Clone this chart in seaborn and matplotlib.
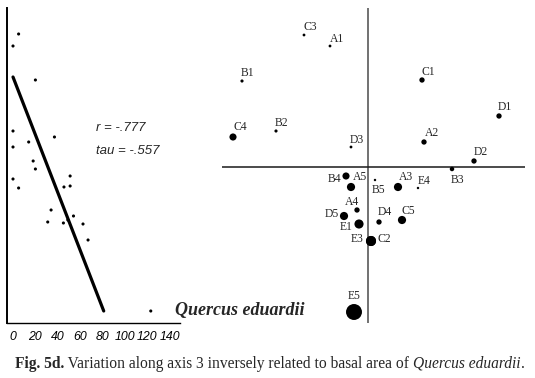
import matplotlib
matplotlib.use("Agg")
import matplotlib.pyplot as plt
import seaborn as sns
import pandas as pd

# ---------------- data ----------------
# left panel: basal area of Quercus eduardii vs. axis-3 score
basal_area = [5, 0, 20, 0, 37, 0, 14, 18, 20, 51, 0, 5, 45.5, 51, 34, 31, 45, 54, 49, 62.5, 67, 123]
axis3_left = [2.66, 2.42, 1.74, 0.72, 0.60, 0.40, 0.50, 0.12, -0.04, -0.18, -0.24, -0.42,
              -0.40, -0.38, -0.86, -1.10, -1.12, -0.98, -1.06, -1.14, -1.46, -2.88]
fit_x = [0, 81]
fit_y = [1.80, -2.88]
x_ticks = [0, 20, 40, 60, 80, 100, 120, 140]
r_text = "r = -.777"
tau_text = "tau = -.557"
species = "Quercus eduardii"

# right panel: ordination of plots, symbol size = basal area
plot_labels = ["C3", "A1", "B1", "C1", "D1", "C4", "B2", "D3", "A2", "D2", "B3", "B4",
               "A5", "B5", "A3", "E4", "A4", "D5", "D4", "C5", "E1", "E3", "C2", "E5"]
axis_h = [-1.28, -0.76, -2.52, 1.08, 2.62, -2.70, -1.84, -0.34, 1.12, 2.12, 1.68, -0.44,
          -0.34, 0.14, 0.60, 1.00, -0.22, -0.48, 0.22, 0.68, -0.18, 0.06, 0.06, -0.28]
axis3_right = [2.64, 2.42, 1.72, 1.74, 1.02, 0.60, 0.72, 0.40, 0.50, 0.12, -0.04, -0.18,
               -0.40, -0.26, -0.40, -0.42, -0.86, -0.98, -1.10, -1.06, -1.14, -1.48, -1.48, -2.90]
plot_basal = [2, 2, 3, 12, 12, 23, 3, 2, 12, 12, 8, 23,
              31, 1, 31, 1, 12, 31, 12, 31, 39, 48, 48, 123]

caption_parts = [("Fig. 5d.", "normal", "bold"),
                 (" Variation along axis 3 inversely related to basal area of ", "normal", "normal"),
                 ("Quercus eduardii", "italic", "normal"),
                 (".", "normal", "normal")]

# label placement (pixels: dx, dy-up, horizontal alignment)
label_pos = {
    "C3": (-1, 8, "left"), "A1": (0, 7, "left"), "B1": (-1, 8, "left"), "C1": (-1, 8, "left"),
    "D1": (-1, 9, "left"), "C4": (0, 10, "left"), "B2": (-1, 8, "left"), "D3": (-1, 7, "left"),
    "A2": (1, 9, "left"), "D2": (0, 9, "left"), "B3": (-1, -11, "left"), "B4": (-5, -3, "right"),
    "A5": (2, 10, "left"), "B5": (-3, -10, "left"), "A3": (1, 10, "left"), "E4": (0, 7, "left"),
    "A4": (-12, 8, "left"), "D5": (-5, 2, "right"), "D4": (-1, 10, "left"), "C5": (-1, 9, "left"),
    "E1": (-6, -3, "right"), "E3": (-7, 2, "right"), "C2": (6, 2, "left"), "E5": (0, 16, "center"),
}

# ---------------- figure ----------------
sns.set_style("white")
plt.rcParams["font.family"] = ["Liberation Sans", "DejaVu Sans"]
SERIF = ["Liberation Serif", "DejaVu Serif"]

W, H = 535, 378
fig = plt.figure(figsize=(W / 100, H / 100), dpi=100)

def frac(x0, y0, x1, y1):
    return [x0 / W, 1 - y1 / H, (x1 - x0) / W, (y1 - y0) / H]

ylim = (-3.12, 3.18)

# left panel
ax1 = fig.add_axes(frac(7, 8, 180, 323))
left_df = pd.DataFrame({"basal": basal_area, "axis3": axis3_left})
sns.scatterplot(data=left_df, x="basal", y="axis3", ax=ax1, color="black", s=5,
                edgecolor="none", legend=False)
fit_df = pd.DataFrame({"x": fit_x, "y": fit_y})
sns.lineplot(data=fit_df, x="x", y="y", ax=ax1, color="black", lw=2.3, legend=False)
ax1.set_xlim(-5.36, 149.1)
ax1.set_ylim(*ylim)
ax1.set_xticks(x_ticks)
ax1.set_xticklabels([str(t) for t in x_ticks], fontsize=8.8, fontstyle="italic")
ax1.set_yticks([])
ax1.set_xlabel("")
ax1.set_ylabel("")
ax1.tick_params(axis="x", length=3, width=1, direction="out", pad=3, colors="black")
for side in ["top", "right"]:
    ax1.spines[side].set_visible(False)
ax1.spines["left"].set_linewidth(1.4)
ax1.spines["bottom"].set_linewidth(1.0)
ax1.spines["left"].set_color("black")
ax1.spines["bottom"].set_color("black")
ax1.patch.set_alpha(0)

fig.text(96 / W, 1 - 128 / H, r_text, fontsize=9.5, fontstyle="italic", va="center", ha="left")
fig.text(96 / W, 1 - 151 / H, tau_text, fontsize=9.5, fontstyle="italic", va="center", ha="left")

# right panel
ax2 = fig.add_axes(frac(222, 8, 525, 323))
right_df = pd.DataFrame({"h": axis_h, "v": axis3_right, "basal": plot_basal, "label": plot_labels})
ax2.axvline(0, color="#4a4a4a", lw=1.1, zorder=1)
ax2.axhline(0, color="#1a1a1a", lw=1.1, zorder=1)
sns.scatterplot(data=right_df, x="h", y="v", size="basal", sizes=(2, 132), size_norm=(0, 123),
                color="black", edgecolor="none", legend=False, ax=ax2, zorder=3)
ax2.set_xlim(-2.92, 3.14)
ax2.set_ylim(*ylim)
ax2.set_axis_off()
for lab, xh, yv in zip(plot_labels, axis_h, axis3_right):
    dx, dy, ha = label_pos[lab]
    ax2.annotate(lab, (xh, yv), xytext=(dx * 0.72, dy * 0.72), textcoords="offset points",
                 ha=ha, va="center", fontsize=8.4, family=SERIF, zorder=4)

fig.text(175 / W, 1 - 311 / H, species, fontsize=13, fontstyle="italic", fontweight="bold",
         family=SERIF, va="center", ha="left")

# caption built piecewise
fig.canvas.draw()
renderer = fig.canvas.get_renderer()
x = 15 / W
y = 1 - 364 / H
for txt, style, weight in caption_parts:
    t = fig.text(x, y, txt, fontsize=11.2, fontstyle=style, fontweight=weight,
                 family=SERIF, va="center", ha="left")
    bb = t.get_window_extent(renderer=renderer)
    x += bb.width / W

fig.savefig("out.png", dpi=100)
